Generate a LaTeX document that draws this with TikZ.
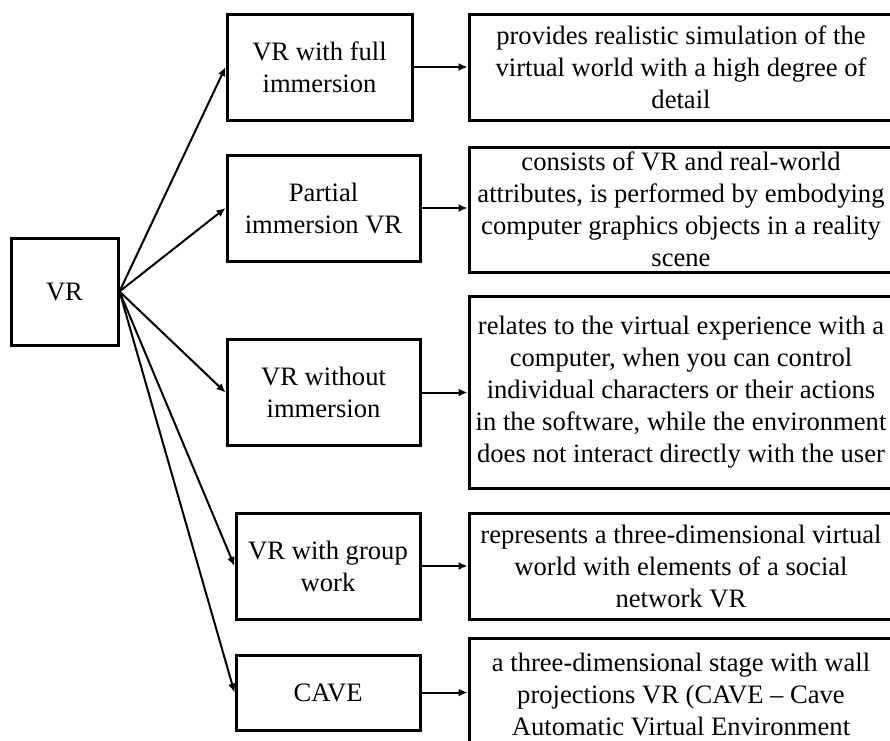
\documentclass[tikz,border=0pt]{standalone}
\usepackage{fontspec}
\setmainfont{Liberation Serif}
\usetikzlibrary{positioning, arrows.meta}

\begin{document}
\begin{tikzpicture}[x=1pt, y=-1pt, line width=2pt,
        font=\fontsize{26.6}{32}\selectfont]
                \tikzset{box/.style={draw, line width=3pt, inner sep=0pt, align=center},
                         kind/.style={box, minimum height=106pt},
                         info/.style={box, minimum width=424pt},
                         arr/.style={line width=2pt, -{Latex[length=9pt, width=8pt]}}}

                \useasboundingbox (0,0) rectangle (890,740);
                \clip (0,0) rectangle (890,740);

                % ROOT
                \node[box, minimum width=107pt, minimum height=107pt] (vr) at (64.5,291.5) {VR};

                % KINDS OF VR
                \node[kind, minimum width=185pt] (k1) at (319.5,67) {VR with full\\immersion};
                \node[kind, minimum width=193pt] (k2) at (323.5,208) {Partial\\immersion VR};
                \node[kind, minimum width=193pt] (k3) at (323.5,392.5) {VR without\\immersion};
                \node[kind, minimum width=184pt] (k4) at (328,566) {VR with group\\work};
                \node[kind, minimum width=184pt, minimum height=75pt] (k5) at (328,692.5) {CAVE};

                % DESCRIPTIONS
                \node[info, minimum height=106pt] (d1) at (681,67)
                    {provides realistic simulation of the\\virtual world with a high degree of\\detail};
                \node[info, minimum height=125pt] (d2) at (681,209.5)
                    {consists of VR and real-world\\attributes, is performed by embodying\\computer graphics objects in a reality\\scene};
                \node[info, minimum height=192pt] (d3) at (681,392)
                    {relates to the virtual experience with a\\computer, when you can control\\individual characters or their actions\\in the software, while the environment\\does not interact directly with the user};
                \node[info, minimum height=106pt] (d4) at (681,566)
                    {represents a three-dimensional virtual\\world with elements of a social\\network VR};
                \node[info, minimum height=112pt] (d5) at (681,694)
                    {a three-dimensional stage with wall\\projections VR (CAVE -- Cave\\Automatic Virtual Environment};

                % ARROWS
                \path[arr]
                    (vr.east) edge (k1.west)
                    (vr.east) edge (k2.west)
                    (vr.east) edge (k3.west)
                    (vr.east) edge (k4.west)
                    (vr.east) edge (k5.west);
                \path[arr]
                    (k1.east) edge (k1.east -| d1.west)
                    (k2.east) edge (k2.east -| d2.west)
                    (k3.east) edge (k3.east -| d3.west)
                    (k4.east) edge (k4.east -| d4.west)
                    (k5.east) edge (k5.east -| d5.west);

            \end{tikzpicture}
\end{document}
